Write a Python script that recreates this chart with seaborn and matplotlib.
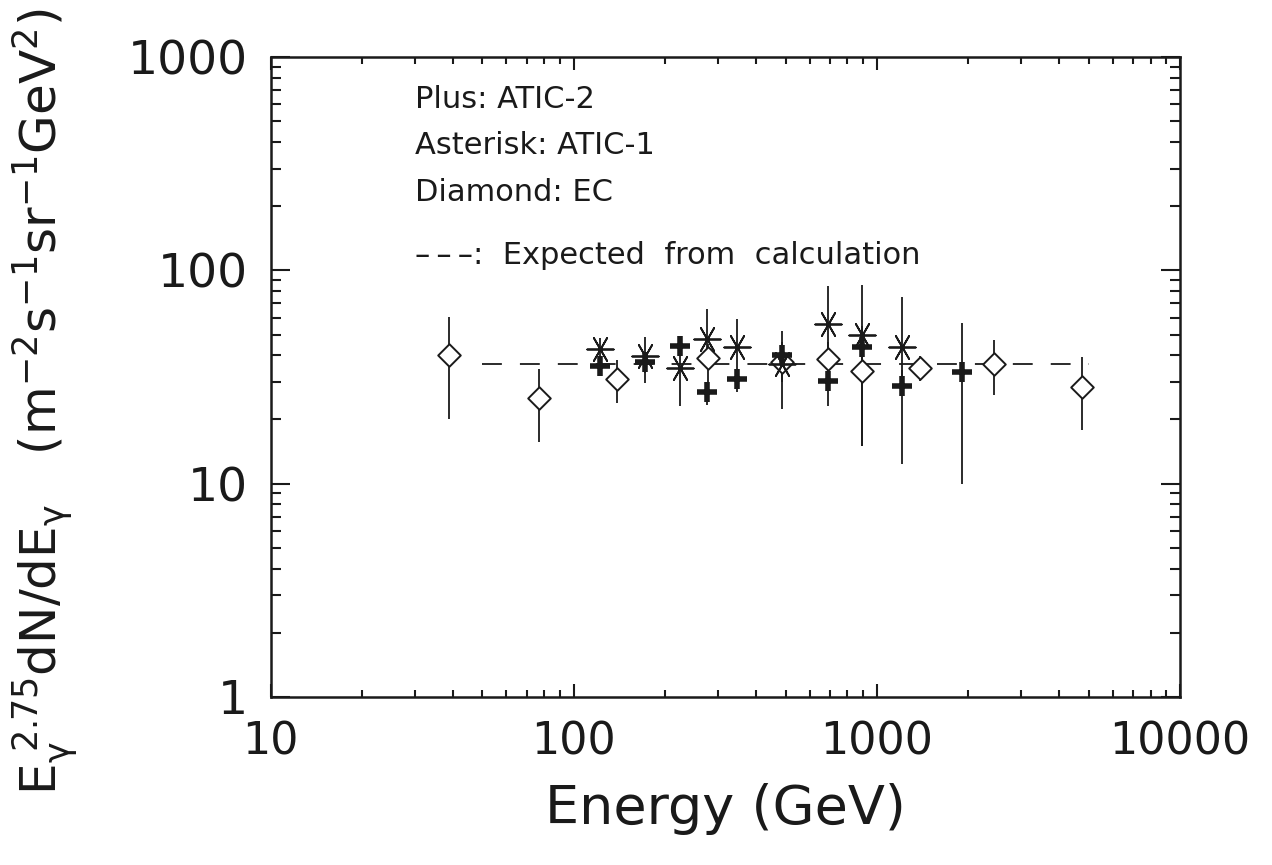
import numpy as np
import pandas as pd
import matplotlib
matplotlib.use("Agg")
import matplotlib.pyplot as plt
import seaborn as sns
from matplotlib.ticker import FixedLocator, FixedFormatter, LogLocator, NullFormatter

# ---- data ----
atic2_x = [122, 172.5, 224, 275, 345, 488, 691, 895, 1215, 1914]
atic2_y = [35.5, 37.2, 44.1, 26.9, 31.1, 40.0, 30.3, 43.5, 28.6, 33.4]
atic2_lo = [33, 33, 40, 23.3, 26.9, 35, 23.1, 38, 12.3, 10.0]
atic2_hi = [38, 40, 48, 30, 35, 46, 36, 48, 34, 56.6]

atic1_x = [122, 172.5, 224, 275, 345, 488, 691, 895, 1215]
atic1_y = [42.7, 39.5, 35.0, 47.9, 43.7, 36.5, 56.3, 50.0, 43.7]
atic1_lo = [38, 29.8, 23.1, 35, 35, 22.3, 30, 15.0, 30]
atic1_hi = [48, 48.7, 45, 66.2, 59.4, 52.0, 84.2, 85.7, 75.0]

ec_x = [38.7, 77.1, 139.5, 278, 487, 691, 895, 1393, 2430, 4748]
ec_y = [40.3, 25.1, 31.1, 38.8, 37.2, 38.5, 33.7, 35.0, 36.5, 28.4]
ec_lo = [20.2, 15.7, 24.0, 30, 30, 32, 15, 30.3, 26.0, 17.8]
ec_hi = [60.4, 34.6, 37.9, 45, 45, 46, 55, 39.5, 47.3, 39.3]

expected_x = [50, 5000]
expected_y = [36.5, 36.5]

x_ticks = [10, 100, 1000, 10000]
x_ticklabels = ["10", "100", "1000", "10000"]
y_ticks = [1, 10, 100, 1000]
y_ticklabels = ["1", "10", "100", "1000"]

legend_lines = ["Plus: ATIC-2", "Asterisk: ATIC-1", "Diamond: EC",
                "\u2013\u2009\u2013\u2009\u2013:  Expected  from  calculation"]

sns.set_style("ticks")
plt.rcParams['font.family'] = ['DejaVu Sans']

fig = plt.figure(figsize=(12.72, 8.65), dpi=100)
ax = fig.add_axes([270.5/1272, 1-697/865, (1180-270.5)/1272, (697-57)/865])

ax.set_xscale("log")
ax.set_yscale("log")

ink = "#1a1a1a"

def draw(xs, ys, lo, hi, marker, ms, mew, fill):
    ys = np.array(ys); lo = np.array(lo); hi = np.array(hi)
    ax.errorbar(xs, ys, yerr=[ys - lo, hi - ys], fmt="none", ecolor=ink,
                elinewidth=1.3, capsize=0, zorder=2)
    df = pd.DataFrame({"x": xs, "y": ys})
    sns.scatterplot(data=df, x="x", y="y", ax=ax, marker=marker, s=ms**2,
                    facecolor=fill, edgecolor=ink, linewidth=mew, color=ink,
                    zorder=3, legend=False)

exp_df = pd.DataFrame({"x": expected_x, "y": expected_y})
sns.lineplot(data=exp_df, x="x", y="y", ax=ax, color=ink, lw=1.3,
             dashes=[(11, 10)], style=[0, 0], legend=False, zorder=1)

draw(ec_x, ec_y, ec_lo, ec_hi, "D", 11.5, 1.4, "white")
draw(atic1_x, atic1_y, atic1_lo, atic1_hi, (6, 2, 90), 19, 1.3, ink)
draw(atic2_x, atic2_y, atic2_lo, atic2_hi, "+", 14, 4.0, ink)

ax.set_xlim(10, 10000)
ax.set_ylim(1, 1000)

ax.xaxis.set_major_locator(FixedLocator(x_ticks))
ax.xaxis.set_major_formatter(FixedFormatter(x_ticklabels))
ax.yaxis.set_major_locator(FixedLocator(y_ticks))
ax.yaxis.set_major_formatter(FixedFormatter(y_ticklabels))
ax.xaxis.set_minor_locator(LogLocator(base=10, subs=np.arange(2, 10)))
ax.yaxis.set_minor_locator(LogLocator(base=10, subs=np.arange(2, 10)))
ax.xaxis.set_minor_formatter(NullFormatter())
ax.yaxis.set_minor_formatter(NullFormatter())

ax.tick_params(axis="both", which="both", direction="in", top=True, right=True,
               colors=ink, width=1.5)
ax.tick_params(axis="x", which="major", length=9.5, pad=17, labelsize=32)
ax.tick_params(axis="x", which="minor", length=4.8)
ax.tick_params(axis="y", which="major", length=13.5, pad=16, labelsize=34)
ax.tick_params(axis="y", which="minor", length=7)
for s in ax.spines.values():
    s.set_linewidth(1.8)
    s.set_color(ink)

ax.set_xlabel("Energy (GeV)", fontsize=39, labelpad=14, color=ink)
ax.set_ylabel("")
fig.text(45/1272, 1-402/865,
         r"$\mathregular{E_{\gamma}^{\ 2.75}dN/dE_{\gamma}\ \ \ (m^{-2}s^{-1}sr^{-1}GeV^{2})}$",
         fontsize=36, rotation=90, ha="center", va="center", color=ink)

ys_txt = [0.933, 0.8625, 0.789, 0.6906]
for t, yy in zip(legend_lines, ys_txt):
    ax.text(0.159, yy, t, transform=ax.transAxes, fontsize=22, va="center",
            ha="left", color=ink)

fig.savefig("out.png", dpi=100)
